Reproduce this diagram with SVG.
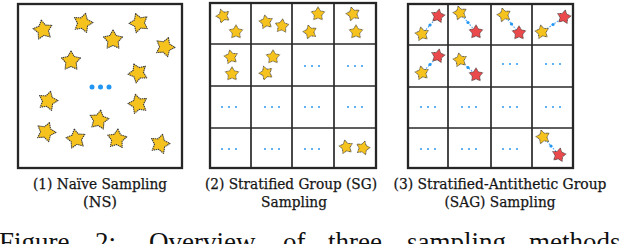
<svg xmlns="http://www.w3.org/2000/svg" xmlns:xlink="http://www.w3.org/1999/xlink" width="624" height="244" viewBox="0 0 624 244">
<defs>
<path id="star" d="M0,-10 L3.233,-4.450 L9.511,-3.090 L5.231,1.700 L5.878,8.090 L0,5.5 L-5.878,8.090 L-5.231,1.700 L-9.511,-3.090 L-3.233,-4.450 Z"/>
<style>
.box{fill:none;stroke:#262626;stroke-width:2.3;stroke-linecap:square}
.grid{fill:none;stroke:#2a2a2a;stroke-width:1.7}
.ys{fill:#F6C21E;stroke:#3a3a3a;stroke-width:1.1;stroke-dasharray:1.4 0.7;stroke-linejoin:round}
.rs{fill:#EA4A4C;stroke:#3a3a3a;stroke-width:1.1;stroke-dasharray:1.4 0.7;stroke-linejoin:round}
.bd{fill:#2196F3}
.sd{fill:#3a9ff0}
.link{stroke:#4aa6f2;stroke-width:1.1;stroke-dasharray:1.6 1.4;fill:none}
.lbl{font-family:"DejaVu Serif","Liberation Serif",serif;font-size:14.5px;fill:#151515;stroke:#151515;stroke-width:0.25;text-anchor:middle}
.cap{font-family:"Liberation Serif","Times New Roman",serif;font-size:27px;fill:#111}
</style>
</defs>

<g id="panel-ns">
<rect class="box" x="18" y="4" width="164" height="164"/>
<g transform="translate(43,30) rotate(-10)"><use xlink:href="#star" class="ys"/></g>
<g transform="translate(83,23) rotate(15)"><use xlink:href="#star" class="ys"/></g>
<g transform="translate(139,23) rotate(-20)"><use xlink:href="#star" class="ys"/></g>
<g transform="translate(113,40) rotate(0)"><use xlink:href="#star" class="ys"/></g>
<g transform="translate(165,47) rotate(20)"><use xlink:href="#star" class="ys"/></g>
<g transform="translate(71,61) rotate(0)"><use xlink:href="#star" class="ys"/></g>
<g transform="translate(138,73) rotate(-25)"><use xlink:href="#star" class="ys"/></g>
<g transform="translate(48,101) rotate(15)"><use xlink:href="#star" class="ys"/></g>
<g transform="translate(138,104) rotate(-15)"><use xlink:href="#star" class="ys"/></g>
<g transform="translate(99,120) rotate(10)"><use xlink:href="#star" class="ys"/></g>
<g transform="translate(46,132) rotate(20)"><use xlink:href="#star" class="ys"/></g>
<g transform="translate(76,139) rotate(-10)"><use xlink:href="#star" class="ys"/></g>
<g transform="translate(117,139) rotate(5)"><use xlink:href="#star" class="ys"/></g>
<g transform="translate(160,144) rotate(15)"><use xlink:href="#star" class="ys"/></g>
<circle class="bd" cx="92" cy="87" r="2.5"/><circle class="bd" cx="100.5" cy="87" r="2.5"/><circle class="bd" cx="109" cy="87" r="2.5"/>
<text class="lbl" x="100" y="189" textLength="134" lengthAdjust="spacingAndGlyphs">(1) Naïve Sampling</text>
<text class="lbl" x="100" y="207" textLength="34" lengthAdjust="spacingAndGlyphs">(NS)</text>
</g>

<g id="panel-sg">
<path class="grid" d="M251,3V168M292,3V168M334,3V168M210,44H376M210,86H376M210,128H376"/>
<rect class="box" x="210" y="3" width="166" height="165"/>
<g transform="translate(223,16) rotate(-20) scale(0.72)"><use xlink:href="#star" class="ys"/></g>
<g transform="translate(236,32) rotate(0) scale(0.72)"><use xlink:href="#star" class="ys"/></g>
<g transform="translate(266,22) rotate(-10) scale(0.72)"><use xlink:href="#star" class="ys"/></g>
<g transform="translate(282,26) rotate(5) scale(0.72)"><use xlink:href="#star" class="ys"/></g>
<g transform="translate(318,14) rotate(0) scale(0.72)"><use xlink:href="#star" class="ys"/></g>
<g transform="translate(310,32) rotate(-15) scale(0.72)"><use xlink:href="#star" class="ys"/></g>
<g transform="translate(353,14) rotate(-15) scale(0.72)"><use xlink:href="#star" class="ys"/></g>
<g transform="translate(356,32) rotate(0) scale(0.72)"><use xlink:href="#star" class="ys"/></g>
<g transform="translate(231,57) rotate(-10) scale(0.72)"><use xlink:href="#star" class="ys"/></g>
<g transform="translate(232,74) rotate(0) scale(0.72)"><use xlink:href="#star" class="ys"/></g>
<g transform="translate(273,57) rotate(0) scale(0.72)"><use xlink:href="#star" class="ys"/></g>
<g transform="translate(266,73) rotate(-20) scale(0.72)"><use xlink:href="#star" class="ys"/></g>
<g transform="translate(346,147) rotate(-10) scale(0.72)"><use xlink:href="#star" class="ys"/></g>
<g transform="translate(363,148) rotate(15) scale(0.72)"><use xlink:href="#star" class="ys"/></g>
<g class="sd">
<circle cx="305" cy="66" r="1.1"/><circle cx="312" cy="66" r="1.1"/><circle cx="319" cy="66" r="1.1"/>
<circle cx="348" cy="66" r="1.1"/><circle cx="355" cy="66" r="1.1"/><circle cx="362" cy="66" r="1.1"/>
<circle cx="222" cy="107" r="1.1"/><circle cx="229" cy="107" r="1.1"/><circle cx="236" cy="107" r="1.1"/>
<circle cx="265" cy="107" r="1.1"/><circle cx="272" cy="107" r="1.1"/><circle cx="279" cy="107" r="1.1"/>
<circle cx="305" cy="107" r="1.1"/><circle cx="312" cy="107" r="1.1"/><circle cx="319" cy="107" r="1.1"/>
<circle cx="348" cy="107" r="1.1"/><circle cx="355" cy="107" r="1.1"/><circle cx="362" cy="107" r="1.1"/>
<circle cx="222" cy="149" r="1.1"/><circle cx="229" cy="149" r="1.1"/><circle cx="236" cy="149" r="1.1"/>
<circle cx="265" cy="149" r="1.1"/><circle cx="272" cy="149" r="1.1"/><circle cx="279" cy="149" r="1.1"/>
<circle cx="305" cy="149" r="1.1"/><circle cx="312" cy="149" r="1.1"/><circle cx="319" cy="149" r="1.1"/>
</g>
<text class="lbl" x="291" y="189" textLength="172" lengthAdjust="spacingAndGlyphs">(2) Stratified Group (SG)</text>
<text class="lbl" x="294" y="207" textLength="66" lengthAdjust="spacingAndGlyphs">Sampling</text>
</g>

<g id="panel-sag">
<g id="connectors">
<path class="link" d="M422,34L438,16M460,13L476,32M504,15L519,33M542,32L564,17M422,73L438,56M460,60L476,75M543,137L559,155"/>
<g class="bd">
<circle cx="430" cy="25" r="1.6"/><circle cx="468" cy="22.5" r="1.6"/><circle cx="511.5" cy="24" r="1.6"/><circle cx="553" cy="24.5" r="1.6"/>
<circle cx="430" cy="64.5" r="1.6"/><circle cx="468" cy="67.5" r="1.6"/><circle cx="551" cy="146" r="1.6"/>
</g>
</g>
<path class="grid" d="M448,4V168M491,4V168M532,4V168M408,45H573M408,87H573M408,128H573"/>
<rect class="box" x="408" y="4" width="165" height="164"/>
<g transform="translate(422,34) rotate(-10) scale(0.72)"><use xlink:href="#star" class="ys"/></g>
<g transform="translate(438,16) rotate(10) scale(0.72)"><use xlink:href="#star" class="rs"/></g>
<g transform="translate(460,13) rotate(-15) scale(0.72)"><use xlink:href="#star" class="ys"/></g>
<g transform="translate(476,32) rotate(0) scale(0.72)"><use xlink:href="#star" class="rs"/></g>
<g transform="translate(504,15) rotate(-15) scale(0.72)"><use xlink:href="#star" class="ys"/></g>
<g transform="translate(519,33) rotate(0) scale(0.72)"><use xlink:href="#star" class="rs"/></g>
<g transform="translate(542,32) rotate(-10) scale(0.72)"><use xlink:href="#star" class="ys"/></g>
<g transform="translate(564,17) rotate(10) scale(0.72)"><use xlink:href="#star" class="rs"/></g>
<g transform="translate(422,73) rotate(-10) scale(0.72)"><use xlink:href="#star" class="ys"/></g>
<g transform="translate(438,56) rotate(10) scale(0.72)"><use xlink:href="#star" class="rs"/></g>
<g transform="translate(460,60) rotate(-10) scale(0.72)"><use xlink:href="#star" class="ys"/></g>
<g transform="translate(476,75) rotate(0) scale(0.72)"><use xlink:href="#star" class="rs"/></g>
<g transform="translate(543,137) rotate(-15) scale(0.72)"><use xlink:href="#star" class="ys"/></g>
<g transform="translate(559,155) rotate(10) scale(0.72)"><use xlink:href="#star" class="rs"/></g>
<g class="sd">
<circle cx="503" cy="64" r="1.1"/><circle cx="510" cy="64" r="1.1"/><circle cx="517" cy="64" r="1.1"/>
<circle cx="546" cy="64" r="1.1"/><circle cx="553" cy="64" r="1.1"/><circle cx="560" cy="64" r="1.1"/>
<circle cx="421" cy="107" r="1.1"/><circle cx="428" cy="107" r="1.1"/><circle cx="435" cy="107" r="1.1"/>
<circle cx="462" cy="107" r="1.1"/><circle cx="469" cy="107" r="1.1"/><circle cx="476" cy="107" r="1.1"/>
<circle cx="503" cy="107" r="1.1"/><circle cx="510" cy="107" r="1.1"/><circle cx="517" cy="107" r="1.1"/>
<circle cx="546" cy="107" r="1.1"/><circle cx="553" cy="107" r="1.1"/><circle cx="560" cy="107" r="1.1"/>
<circle cx="421" cy="149" r="1.1"/><circle cx="428" cy="149" r="1.1"/><circle cx="435" cy="149" r="1.1"/>
<circle cx="462" cy="149" r="1.1"/><circle cx="469" cy="149" r="1.1"/><circle cx="476" cy="149" r="1.1"/>
<circle cx="503" cy="149" r="1.1"/><circle cx="510" cy="149" r="1.1"/><circle cx="517" cy="149" r="1.1"/>
</g>
<text class="lbl" x="500" y="189" textLength="213" lengthAdjust="spacingAndGlyphs">(3) Stratified-Antithetic Group</text>
<text class="lbl" x="500" y="207" textLength="111" lengthAdjust="spacingAndGlyphs">(SAG) Sampling</text>
</g>

<g id="caption">
<text class="cap" x="-1" y="251">Figure</text>
<text class="cap" x="95" y="251">2:</text>
<text class="cap" x="149" y="251">Overview</text>
<text class="cap" x="283" y="251">of</text>
<text class="cap" x="328" y="251">three</text>
<text class="cap" x="407" y="251">sampling</text>
<text class="cap" x="529" y="251">methods</text>
</g>
</svg>
